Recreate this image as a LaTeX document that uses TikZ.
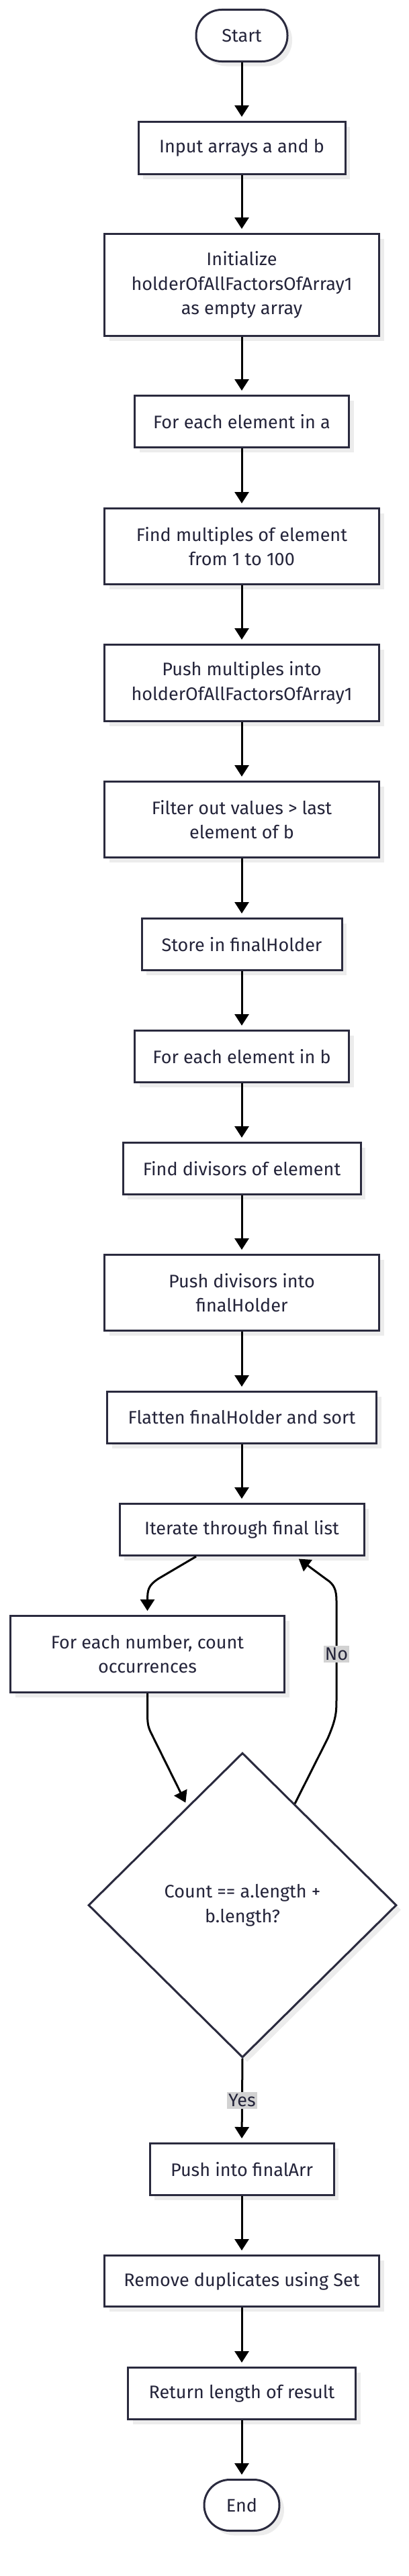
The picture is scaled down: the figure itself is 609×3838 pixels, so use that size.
\documentclass[tikz,border=0pt]{standalone}
\usepackage{fontspec}
\setmainfont{Fira Sans}
\usetikzlibrary{arrows.meta,shapes.geometric,shadows,calc}
\definecolor{bordercol}{RGB}{42,42,62}
\definecolor{textcol}{RGB}{36,36,58}
\definecolor{shadowcol}{RGB}{236,236,236}
\definecolor{labelcol}{RGB}{210,210,210}
\begin{document}
\begin{tikzpicture}[x=1pt,y=-1pt,
  base/.style={draw=bordercol, line width=3pt, fill=white, text=textcol, align=center, inner sep=0pt,
    font=\fontsize{27}{36.7}\selectfont,
    drop shadow={shadow xshift=7pt, shadow yshift=-7pt, fill=shadowcol, draw=none, opacity=1}},
  proc/.style={base, rectangle},
  term/.style={base, rectangle, rounded corners=38pt},
  decision/.style={base, diamond, aspect=1},
  arr/.style={line width=3pt, draw=black, -{Triangle[length=17pt,width=21pt]}, shorten >=6pt},
  lab/.style={fill=labelcol, text=textcol, font=\fontsize{27}{30}\selectfont, inner xsep=2pt, inner ysep=3pt}
]
\useasboundingbox (0,0) rectangle (609,3838);
\fill[white] (0,0) rectangle (609,3838);

\node[term, minimum width=136pt, minimum height=77pt] (start) at (360,53) {Start};
\node[proc, minimum width=308pt, minimum height=78pt] (input) at (360,220.5) {Input arrays a and b};
\node[proc, minimum width=409pt, minimum height=152pt] (init) at (360,424.5) {Initialize\\holderOfAllFactorsOfArray1\\as empty array};
\node[proc, minimum width=319pt, minimum height=77pt] (fea) at (360,628) {For each element in a};
\node[proc, minimum width=409pt, minimum height=113pt] (fm) at (360,814) {Find multiples of element\\from 1 to 100};
\node[proc, minimum width=409pt, minimum height=114pt] (pm) at (360,1017.5) {Push multiples into\\holderOfAllFactorsOfArray1};
\node[proc, minimum width=409pt, minimum height=113pt] (filt) at (360,1221) {Filter out values > last\\element of b};
\node[proc, minimum width=298pt, minimum height=77pt] (store) at (360,1407) {Store in finalHolder};
\node[proc, minimum width=319pt, minimum height=77pt] (feb) at (360,1574) {For each element in b};
\node[proc, minimum width=354pt, minimum height=77pt] (fd) at (360,1741) {Find divisors of element};
\node[proc, minimum width=409pt, minimum height=113pt] (pd) at (360,1926) {Push divisors into\\finalHolder};
\node[proc, minimum width=401pt, minimum height=77pt] (flat) at (360,2112) {Flatten finalHolder and sort};
\node[proc, minimum width=364pt, minimum height=77pt] (iter) at (360,2279) {Iterate through final list};
\node[proc, minimum width=408pt, minimum height=114pt] (fen) at (219.5,2464.5) {For each number, count\\occurrences};
\node[decision, minimum width=459pt, minimum height=454pt] (dec) at (361,2838.5) {Count == a.length +\\b.length?};
\node[proc, minimum width=274pt, minimum height=77pt] (push) at (360,3232) {Push into finalArr};
\node[proc, minimum width=409pt, minimum height=76pt] (rem) at (360,3398.5) {Remove duplicates using Set};
\node[proc, minimum width=339pt, minimum height=77pt] (ret) at (360,3566) {Return length of result};
\node[term, minimum width=112pt, minimum height=76pt] (stop) at (360,3732.5) {End};

\draw[arr] (start) -- (input);
\draw[arr] (input) -- (init);
\draw[arr] (init) -- (fea);
\draw[arr] (fea) -- (fm);
\draw[arr] (fm) -- (pm);
\draw[arr] (pm) -- (filt);
\draw[arr] (filt) -- (store);
\draw[arr] (store) -- (feb);
\draw[arr] (feb) -- (fd);
\draw[arr] (fd) -- (pd);
\draw[arr] (pd) -- (flat);
\draw[arr] (flat) -- (iter);
\draw[arr] ([xshift=-68pt]iter.south) -- (236,2352) .. controls (221,2362) and (219.5,2368) .. (219.5,2385) -- (fen.north);
\draw[arr] (fen.south) -- (219.5,2550) .. controls (219.5,2566) and (220,2571) .. (224,2580) -- ($(dec.north)!0.355!(dec.west)$);
\draw[arr] (dec.south) -- node[lab]{Yes} (push.north);
\draw[arr] ($(dec.north)!0.338!(dec.east)$) -- (488,2590) .. controls (501,2560) and (501,2550) .. (501,2530) -- node[lab, pos=0.45]{No} (501,2385) .. controls (501,2368) and (497,2360) .. (486,2353) -- ([xshift=80pt]iter.south);
\draw[arr] (push) -- (rem);
\draw[arr] (rem) -- (ret);
\draw[arr] (ret) -- (stop);
\end{tikzpicture}
\end{document}
